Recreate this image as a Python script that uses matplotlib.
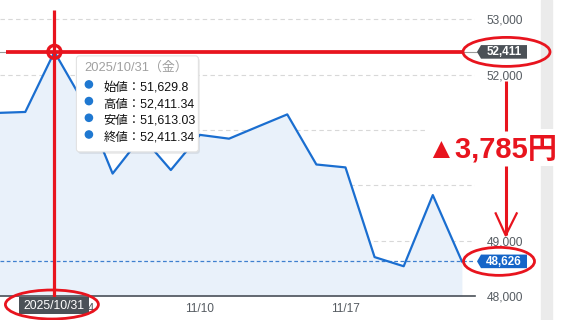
import matplotlib
matplotlib.use('Agg')
import matplotlib.pyplot as plt
from matplotlib.patches import Ellipse, FancyBboxPatch, Polygon, Rectangle, Circle

plt.rcParams['font.family'] = ['Liberation Sans', 'Noto Sans CJK JP', 'DejaVu Sans']

# 日経平均 終値
dates = ['10/29', '10/30', '10/31', '11/4', '11/5', '11/6', '11/7', '11/10', '11/11',
         '11/12', '11/13', '11/14', '11/17', '11/18', '11/19', '11/20', '11/21']
closes = [51307.65, 51325.61, 52411.34, 51497.20, 50212.27, 50883.68, 50276.37,
          50911.76, 50842.93, 51063.31, 51281.83, 50376.53, 50323.91, 48702.98,
          48537.70, 49823.94, 48625.88]
tick_dates = ['11/4', '11/10', '11/17']
y_ticks = [48000, 49000, 50000, 51000, 52000, 53000]
y_labels = ['48,000', '49,000', '', '', '52,000', '53,000']

# tooltip for 10/31
tip_title = '2025/10/31（金）'
tip_rows = [('始値', '51,629.8'), ('高値', '52,411.34'), ('安値', '51,613.03'), ('終値', '52,411.34')]
sel = dates.index('10/31')

RED = '#e8141e'
BLUE = '#1a6ed0'
DARK = '#4b5157'

W, H = 584, 320
fig = plt.figure(figsize=(W / 100, H / 100), dpi=100)
ax = fig.add_axes([0, (H - 296) / H, 475 / W, 296 / H])

xs = list(range(len(closes)))
ax.fill_between(xs, closes, 48000, color='#e9f1fa', lw=0, zorder=1)
ax.plot(xs, closes, color=BLUE, lw=1.6, zorder=3)
for v in y_ticks[1:]:
    ax.axhline(v, color='#d8d8d8', lw=0.8, ls=(0, (4, 3)), zorder=0)
ax.axhline(closes[-1], color='#3f80cf', lw=0.9, ls=(0, (3, 2)), zorder=2)
ax.axhline(closes[sel], color='#9a9a9a', lw=0.8, zorder=2, clip_on=False,
           xmax=1.02)

ax.set_xlim(0.131, 16.45)
ax.set_ylim(48000, 53349)
for s in ['top', 'left', 'right']:
    ax.spines[s].set_visible(False)
ax.spines['bottom'].set_color('#4a5058')
ax.spines['bottom'].set_linewidth(1.2)
ax.set_xticks([dates.index(d) for d in tick_dates])
ax.set_xticklabels(tick_dates)
ax.yaxis.tick_right()
ax.set_yticks(y_ticks)
ax.set_yticklabels(y_labels)
ax.tick_params(axis='x', length=0, pad=5, labelsize=8.6, labelcolor='#555b61')
ax.tick_params(axis='y', length=0, pad=8.5, labelsize=8.6, labelcolor='#555b61')
ax.patch.set_alpha(0)


def px(xd, yd):
    X, Y = ax.transData.transform((xd, yd))
    return X, H - Y


ov = fig.add_axes([0, 0, 1, 1], zorder=5)
ov.set_xlim(0, W)
ov.set_ylim(H, 0)
ov.axis('off')

# right gray strip (behind everything)
fig.patches.append(Rectangle((541 / W, 0), 11 / W, 1, transform=fig.transFigure,
                             color='#ebebeb', zorder=-1))

hx, hy = px(sel, closes[sel])
lx, ly = px(len(closes) - 1, closes[-1])
_, y52 = px(0, 52000)

# tooltip
bx, by = hx + 22, hy + 4
ov.add_patch(FancyBboxPatch((bx + 1.5, by + 2), 122, 96, boxstyle='round,pad=0,rounding_size=3',
                            fc='#000000', ec='none', alpha=0.08, zorder=1))
ov.add_patch(FancyBboxPatch((bx, by), 122, 96, boxstyle='round,pad=0,rounding_size=3',
                            fc='white', ec='#e2e2e2', lw=0.8, zorder=2))
ov.text(bx + 8, by + 12, tip_title, color='#a0a0a0', fontsize=9.3, va='center', zorder=3)
for i, (k, v) in enumerate(tip_rows):
    ry = by + 31.5 + i * 16.7
    ov.add_patch(Circle((bx + 12.5, ry - 3), 3.6, color='#1f78d1', zorder=3))
    ov.text(bx + 27, ry, k + '：' + v, color='#111111', fontsize=8.9, va='center', zorder=3)

# crosshair
ov.plot([hx, hx], [10, 300], color=RED, lw=2.3, zorder=4, solid_capstyle='butt')
ov.plot([6, 463], [hy, hy], color=RED, lw=2.7, zorder=4, solid_capstyle='butt')
ov.add_patch(Circle((hx, hy), 6.5, fc='none', ec=RED, lw=2.4, zorder=5))

# price labels
def price_tag(y, txt, color):
    ov.add_patch(Polygon([(477, y), (481, y - 6.8), (527, y - 6.8), (527, y + 6.8), (481, y + 6.8)],
                         closed=True, fc=color, ec='none', zorder=4))
    ov.text(504, y + 0.5, txt, color='white', fontsize=8.4, fontweight='bold',
            ha='center', va='center', zorder=5)

price_tag(hy, f'{round(closes[sel]):,}', DARK)
price_tag(ly, f'{round(closes[-1]):,}', '#1565c8')

# date label
ov.add_patch(Rectangle((hx - 35, 297), 70, 17, fc=DARK, ec='none', zorder=6))
ov.text(hx, 306, tip_title[:10], color='white', fontsize=8.8, ha='center', va='center', zorder=7)

# red ellipses
ov.add_patch(Ellipse((hx - 2.5, 304.5), 93, 29, fc='none', ec=RED, lw=2.0, zorder=8))
ov.add_patch(Ellipse((506.5, hy), 87, 29, fc='none', ec=RED, lw=2.0, zorder=8))
ov.add_patch(Ellipse((499, ly), 71, 28, fc='none', ec=RED, lw=2.0, zorder=8))

# difference arrow
ax_x = 505.7
ov.add_patch(Rectangle((426, 129), 130, 37, fc='white', ec='none', zorder=3))
ov.plot([ax_x, ax_x], [y52 + 6, 131], color=RED, lw=2.2, zorder=6, solid_capstyle='butt')
ov.plot([ax_x, ax_x], [166, ly - 26], color=RED, lw=2.2, zorder=6, solid_capstyle='butt')
ov.plot([ax_x - 10, ax_x, ax_x + 11], [ly - 48, ly - 26, ly - 48], color=RED, lw=1.6, zorder=6)
diff = round(closes[sel]) - round(closes[-1])
ov.text(492, 150, f'▲{diff:,}円', color=RED, fontsize=21, fontweight='bold',
        ha='center', va='center', zorder=7)

fig.savefig('out.png', dpi=100)
